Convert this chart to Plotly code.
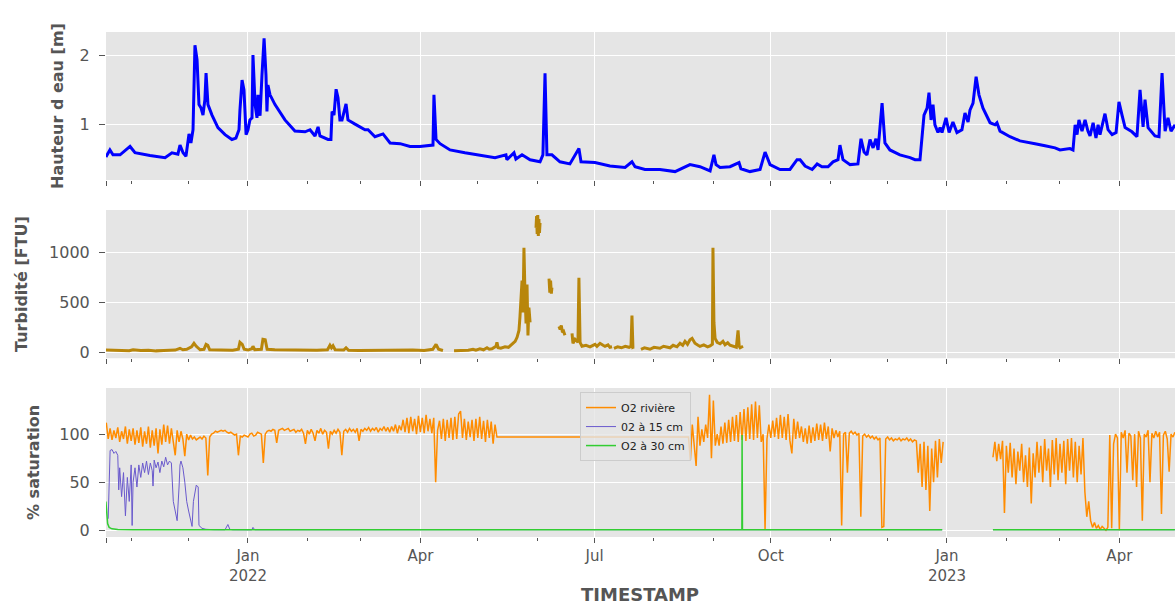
import pandas as pd
import plotly.graph_objects as go
from plotly.subplots import make_subplots

# jours comptés depuis le 1er janvier 2022
ORIGINE = pd.Timestamp("2022-01-01")

# --- hauteur d'eau [m]
niveau_jour = [
    -74.2, -72.1, -70.5, -66.8, -61.6, -59.0, -51.2, -43.3, -39.7, -36.6,
    -35.5, -33.9, -32.4, -30.8, -29.8, -28.7, -27.7, -26.6, -25.6, -24.5,
    -23.5, -22.5, -21.9, -20.9, -18.8, -15.7, -12.0, -8.4, -6.3, -4.7,
    -4.2, -3.1, -2.1, -1.0, 0.0, 1.0, 2.1, 2.6, 3.7, 4.7,
    5.2, 6.3, 7.3, 8.4, 9.4, 9.9, 10.4, 11.5, 14.1, 19.3,
    24.5, 29.8, 32.4, 35.0, 36.6, 37.6, 41.8, 43.3, 43.9, 44.9,
    46.0, 47.0, 48.0, 49.1, 51.2, 52.2, 55.9, 61.1, 62.7, 66.3,
    70.5, 74.2, 79.4, 84.6, 89.8, 96.6, 97.1, 98.2, 100.3, 105.5,
    113.3, 121.1, 129.0, 134.7, 135.2, 138.9, 139.9, 143.1, 147.3, 152.5,
    154.0, 155.1, 156.1, 158.7, 162.9, 168.1, 172.8, 173.9, 181.2, 189.0,
    196.9, 200.5, 202.1, 207.3, 215.1, 223.0, 228.2, 230.8, 236.0, 241.3,
    243.3, 244.4, 246.5, 251.7, 256.4, 257.4, 262.1, 267.4, 270.0, 272.6,
    277.8, 283.0, 286.7, 288.3, 290.9, 294.6, 297.2, 299.7, 302.9, 305.5,
    308.1, 309.1, 310.7, 314.4, 318.5, 320.1, 321.7, 323.2, 324.8, 326.4,
    327.9, 329.0, 331.1, 332.6, 335.2, 340.4, 345.7, 348.3, 350.9, 352.0,
    353.0, 354.6, 355.6, 356.7, 357.7, 358.7, 360.3, 361.4, 362.4, 364.5,
    366.1, 368.1, 370.2, 372.8, 374.4, 376.0, 377.0, 378.6, 380.2, 381.7,
    383.8, 387.5, 390.1, 391.1, 392.7, 397.9, 403.1, 411.0, 413.6, 416.2,
    421.4, 424.0, 429.2, 430.8, 431.9, 432.9, 433.9, 435.5, 437.1, 438.6,
    439.7, 441.3, 442.8, 443.9, 444.9, 447.5, 449.1, 451.2, 453.3, 454.8,
    456.4, 458.0, 461.6, 464.2, 465.8, 467.4, 468.4, 470.0, 473.6, 475.7,
    477.3, 478.9, 480.4, 482.0, 484.1,
]
niveau_m = [
    0.54, 0.64, 0.57, 0.57, 0.69, 0.60, 0.56, 0.53, 0.60, 0.58,
    0.71, 0.60, 0.55, 0.87, 0.74, 0.93, 2.14, 1.93, 1.29, 1.24,
    1.14, 1.36, 1.74, 1.29, 1.14, 0.96, 0.86, 0.79, 0.81, 0.93,
    1.21, 1.64, 1.50, 0.86, 0.93, 1.07, 1.10, 2.00, 1.29, 1.10,
    1.43, 1.13, 1.71, 2.24, 1.71, 1.19, 1.57, 1.43, 1.29, 1.07,
    0.91, 0.90, 0.93, 0.84, 0.97, 0.84, 0.79, 0.79, 1.19, 1.14,
    1.51, 1.39, 1.07, 1.07, 1.30, 1.07, 1.01, 0.93, 0.93, 0.83,
    0.87, 0.74, 0.73, 0.69, 0.69, 0.71, 1.43, 0.79, 0.73, 0.64,
    0.60, 0.57, 0.53, 0.57, 0.50, 0.60, 0.51, 0.57, 0.50, 0.47,
    0.57, 1.74, 0.57, 0.57, 0.47, 0.44, 0.66, 0.47, 0.46, 0.41,
    0.39, 0.47, 0.40, 0.36, 0.36, 0.33, 0.39, 0.43, 0.40, 0.34,
    0.57, 0.43, 0.39, 0.40, 0.46, 0.37, 0.33, 0.36, 0.61, 0.43,
    0.36, 0.36, 0.50, 0.50, 0.41, 0.36, 0.44, 0.40, 0.40, 0.47,
    0.50, 0.71, 0.50, 0.43, 0.44, 0.80, 0.61, 0.57, 0.79, 0.67,
    0.80, 0.64, 1.31, 0.74, 0.64, 0.57, 0.53, 0.50, 0.50, 0.89,
    1.14, 1.24, 1.46, 1.07, 1.29, 1.00, 0.89, 0.96, 0.89, 1.10,
    0.89, 1.04, 0.89, 0.93, 1.17, 1.04, 1.21, 1.31, 1.69, 1.43,
    1.24, 1.03, 1.00, 1.03, 0.91, 0.83, 0.77, 0.73, 0.71, 0.70,
    0.67, 0.64, 0.66, 0.64, 1.00, 0.86, 1.07, 0.91, 1.07, 0.91,
    0.84, 1.03, 0.81, 1.00, 0.86, 1.16, 0.93, 0.86, 0.89, 1.33,
    1.14, 0.96, 0.90, 0.83, 1.50, 0.97, 1.36, 0.96, 0.84, 0.83,
    1.74, 0.91, 1.10, 0.91, 1.00,
]

# --- turbidité [FTU], par tronçons de mesure continus
turb_j1 = [-74.2, -70, -66, -62, -60, -56, -52, -48, -44, -40, -38, -35.5, -34, -32,
           -29.5, -28.2, -27, -25, -23, -21.9, -21, -20, -16, -12, -8, -5, -4.2, -3,
           -2, 0, 2, 2.6, 3.5, 7, 7.8, 9, 10, 14, 20, 26, 32, 36, 41.5, 42.8, 43.6,
           44.4, 45.5, 50, 51.2, 52.5, 58, 65, 72, 80, 86, 92, 96.5, 98.2, 99.5, 101.8]
turb_v1 = [22, 18, 20, 15, 24, 17, 19, 14, 18, 16, 22, 40, 25, 30,
           55, 90, 60, 25, 30, 80, 70, 25, 22, 18, 20, 30, 100, 80,
           30, 22, 35, 60, 25, 30, 130, 125, 30, 25, 22, 18, 21, 19, 25, 70, 45,
           65, 25, 22, 45, 20, 18, 20, 17, 20, 22, 18, 30, 80, 30, 18]
turb_j2 = [107.6, 112, 115, 117.5, 119, 121.1, 123, 124.8, 126, 127.4, 129.5, 130, 130.6,
           132, 134.2, 136, 136.8, 138.4, 139.5, 140.5, 141.5, 142, 142.6, 143.1, 143.6,
           144.1, 144.6, 145.2, 145.7, 146.2, 146.7, 147.3]
turb_v2 = [15, 18, 20, 30, 20, 35, 25, 45, 30, 35, 60, 100, 45,
           40, 55, 50, 65, 90, 110, 150, 220, 350, 520, 720, 400,
           1050, 620, 290, 680, 170, 450, 300]
turb_j3 = [150.4, 150.7, 151.0, 151.3, 151.6, 151.9, 152.2, 152.5]
turb_v3 = [1250, 1370, 1190, 1380, 1170, 1340, 1200, 1300]
turb_j4 = [157.2, 157.6, 158.0, 158.4, 158.7]
turb_v4 = [740, 600, 720, 590, 650]
turb_j5 = [162.4, 163, 163.6, 164.2, 164.8, 165.5]
turb_v5 = [260, 230, 270, 200, 210, 170]
turb_j6 = [169.2, 169.7, 170.8, 172.3, 172.8, 173.4, 174.4, 176.5, 178.6, 181.2, 182.2,
           183.8, 185.4, 186.4, 188.0, 189.0, 190.1]
turb_v6 = [190, 90, 130, 100, 750, 100, 60, 70, 55, 80, 60,
           90, 70, 60, 75, 50, 55]
turb_j7 = [191.1, 193, 195, 197, 199, 200, 200.5, 201, 201.6]
turb_v7 = [40, 55, 45, 60, 50, 60, 370, 50, 55]
turb_j8 = [205.2, 207, 209.9, 212, 215.1, 217, 220.4, 222, 224, 225.6, 227, 228.2, 229.5,
           230.8, 231.9, 233.4, 235, 236, 238, 240, 241.3, 242.5, 242.8, 243.3, 243.9,
           245, 246.5, 248, 249.1, 250.5, 251.7, 253, 255, 255.9, 256.5, 257, 258.5]
turb_v8 = [30, 45, 30, 50, 40, 60, 45, 70, 55, 90, 70, 110, 80,
           125, 140, 90, 70, 60, 75, 55, 65, 80, 1050, 300, 140,
           100, 85, 110, 75, 95, 70, 60, 50, 220, 60, 45, 60]

# --- O2 rivière [% sat.], valeurs journalières par tronçon (premier jour de chaque tronçon)
o2_riv_debut = [-74, 230, 389]
o2_riv_a = [
    112, 95, 106, 94, 104, 96, 107, 92, 103, 95,
    108, 90, 105, 93, 106, 89, 104, 91, 107, 87,
    103, 90, 108, 86, 104, 88, 106, 80, 105, 89,
    110, 92, 109, 90, 106, 91, 78, 104, 92, 103,
    95, 77, 100, 94, 99, 95, 97, 94, 96, 97,
    95, 98, 96, 57, 97, 100, 101, 103, 102, 103,
    104, 103, 104, 102, 101, 102, 100, 99, 100, 78,
    98, 97, 99, 98, 97, 100, 101, 98, 99, 102,
    101, 100, 70, 100, 103, 104, 103, 105, 104, 91,
    104, 105, 106, 104, 105, 106, 103, 104, 105, 102,
    104, 103, 105, 101, 90, 104, 100, 105, 101, 93,
    104, 101, 106, 100, 104, 102, 85, 103, 100, 104,
    101, 105, 102, 78, 103, 105, 102, 106, 103, 105,
    102, 106, 93, 105, 103, 106, 104, 107, 103, 106,
    104, 107, 102, 106, 104, 108, 103, 107, 102, 108,
    103, 110, 101, 109, 104, 115, 102, 117, 101, 118,
    103, 116, 100, 119, 102, 117, 101, 120, 103, 116,
    101, 117, 50, 104, 114, 95, 116, 93, 115, 96,
    117, 94, 118, 95, 121, 124, 96, 116, 94, 113,
    97, 115, 93, 116, 96, 118, 95, 114, 92, 115,
    96, 113, 90, 110, 97,
]
o2_riv_b = [
    97, 73, 110, 86, 67, 118, 88, 105, 92, 110,
    96, 141, 75, 135, 88, 100, 88, 108, 90, 112,
    91, 115, 92, 118, 93, 120, 92, 123, 94, 126,
    93, 128, 95, 131, 94, 134, 96, 130, 92, 100,
    1, 95, 110, 96, 114, 97, 117, 95, 120, 96,
    118, 94, 121, 93, 80, 116, 95, 113, 96, 108,
    92, 106, 90, 109, 91, 107, 93, 111, 94, 110,
    93, 112, 95, 108, 82, 106, 96, 104, 97, 103,
    5, 100, 102, 60, 101, 103, 100, 102, 99, 101,
    14, 98, 100, 97, 99, 96, 98, 95, 97, 94,
    96, 3, 4, 95, 97, 94, 96, 93, 95, 94,
    96, 93, 95, 94, 96, 93, 95, 92, 94, 93,
    60, 90, 45, 92, 42, 88, 20, 85, 50, 93,
    55, 95, 70, 92,
]
o2_riv_c = [
    76, 92, 72, 90, 74, 93, 18, 88, 60, 91,
    55, 85, 48, 82, 62, 90, 50, 78, 45, 86,
    28, 80, 55, 92, 60, 88, 50, 95, 62, 85,
    45, 94, 58, 96, 52, 90, 60, 93, 48, 95,
    62, 96, 55, 92, 50, 88, 58, 96, 40, 14,
    30, 10, 3, 8, 2, 5, 1, 4, 2, 0,
    3, 99, 2, 90, 100, 96, 0, 102, 96, 104,
    60, 101, 98, 52, 100, 45, 103, 96, 10, 100,
    97, 104, 50, 101, 96, 103, 97, 102, 17, 99,
    103, 95, 61, 100, 97, 102,
]

# --- O2 à 15 cm et à 30 cm (None = pas de mesure)
o2_15_jour = [-73, -72, -71, -70, -69, -68, -67.5, -67, -66, -65, -64, -63, -62, -61,
              -60.5, -60, -59, -58, -57, -56, -55, -54, -53, -52, -51, -50, -49.6, -49,
              -48, -47, -46, -45, -44, -43, -42, -41, -40, -39.5, -39, -38, -37, -36,
              -35.5, -35, -34, -33, -32, -31, -30, -29.2, -28.5, -27.5, -27, -26, -25.6,
              -24, -22, -18, -12, -10.5, -9.5, -8, 2, 2.6, 3.5, 120, 200, 362.5,
              None, 389, 484]
o2_15_val = [12, 83, 84, 80, 82, 78, 42, 65, 35, 60, 15, 55, 30, 68,
             5, 50, 65, 45, 68, 55, 70, 60, 72, 58, 70, 62, 46, 73,
             65, 71, 60, 72, 66, 76, 68, 72, 70, 42, 30, 20, 10, 45,
             68, 72, 65, 50, 30, 20, 10, 4, 30, 44, 47, 45, 5,
             2, 1, 0.6, 0.5, 6, 1, 0.5, 0.4, 3, 0.5, 0.6, 0.4, 0.5,
             None, 0.6, 0.5]
o2_30_jour = [-74.2, -73.8, -73.3, -72.5, -71, -68, -60, 257.9, 258.0, 258.2, 362.5,
              None, 389, 484]
o2_30_val = [30, 15, 7, 3, 1.5, 0.8, 0.5, 0.5, 99, 0.5, 0.5,
             None, 0.5, 0.5]

# graduations de l'axe du temps
mois_majeurs = ["2021-10-19", "2022-01-01", "2022-04-01", "2022-07-01",
                "2022-10-01", "2023-01-01", "2023-04-01"]
etiquettes_mois = ["", "Jan<br>2022", "Apr", "Jul", "Oct", "Jan<br>2023", "Apr"]
mois_mineurs = ["2021-11-01", "2021-12-01", "2022-02-01", "2022-03-01", "2022-05-01",
                "2022-06-01", "2022-08-01", "2022-09-01", "2022-11-01", "2022-12-01",
                "2023-02-01", "2023-03-01"]


def en_dates(jours):
    return [None if j is None else ORIGINE + pd.Timedelta(days=j) for j in jours]


turb_j, turb_v = [], []
for jj, vv in [(turb_j1, turb_v1), (turb_j2, turb_v2), (turb_j3, turb_v3), (turb_j4, turb_v4),
               (turb_j5, turb_v5), (turb_j6, turb_v6), (turb_j7, turb_v7), (turb_j8, turb_v8)]:
    if turb_j:
        turb_j.append(None)
        turb_v.append(None)
    turb_j += jj
    turb_v += vv

riv_j, riv_v = [], []
for k, (debut, vals) in enumerate(zip(o2_riv_debut, [o2_riv_a, o2_riv_b, o2_riv_c])):
    if k == 2:  # trou de mesure janvier 2023
        riv_j.append(None)
        riv_v.append(None)
    riv_j += [debut + i for i in range(len(vals))]
    riv_v += vals

GRIS = "#555555"
POLICE = "DejaVu Sans"

fig = make_subplots(rows=3, cols=1, shared_xaxes=True)

fig.add_trace(go.Scatter(x=en_dates(niveau_jour), y=niveau_m, mode="lines",
                         line=dict(color="blue", width=3), showlegend=False), row=1, col=1)
fig.add_trace(go.Scatter(x=en_dates(turb_j), y=turb_v, mode="lines",
                         line=dict(color="#B8860B", width=3), showlegend=False), row=2, col=1)
fig.add_trace(go.Scatter(x=en_dates(riv_j), y=riv_v, mode="lines", name="O2 rivière",
                         line=dict(color="darkorange", width=1.5)), row=3, col=1)
fig.add_trace(go.Scatter(x=en_dates(o2_15_jour), y=o2_15_val, mode="lines", name="02 à 15 cm",
                         line=dict(color="slateblue", width=1)), row=3, col=1)
fig.add_trace(go.Scatter(x=en_dates(o2_30_jour), y=o2_30_val, mode="lines", name="O2 à 30 cm",
                         line=dict(color="limegreen", width=1.5)), row=3, col=1)

axe_x = dict(
    type="date", range=["2021-10-18 20:30", "2023-04-30 01:30"],
    tickmode="array", tickvals=mois_majeurs, ticktext=etiquettes_mois,
    ticks="outside", ticklen=5, tickwidth=1, tickcolor=GRIS,
    tickfont=dict(family=POLICE, size=15, color=GRIS),
    showgrid=True, gridcolor="white", gridwidth=1.3, zeroline=False, showline=False,
    minor=dict(tickmode="array", tickvals=mois_mineurs, ticks="outside", ticklen=3,
               tickwidth=1, tickcolor=GRIS, showgrid=False),
)
axe_y = dict(
    ticks="outside", ticklen=6, tickwidth=1, tickcolor=GRIS, ticklabelstandoff=6,
    tickfont=dict(family=POLICE, size=16, color=GRIS),
    showgrid=True, gridcolor="white", gridwidth=1.3, zeroline=False, showline=False,
)

fig.update_layout(
    width=1175, height=606,
    margin=dict(l=106, r=0, t=32, b=69, autoexpand=False),
    paper_bgcolor="white", plot_bgcolor="#E5E5E5",
    font=dict(family=POLICE, color=GRIS),
    xaxis=dict(axe_x, showticklabels=False),
    xaxis2=dict(axe_x, showticklabels=False),
    xaxis3=dict(axe_x, showticklabels=True),
    yaxis=dict(axe_y, domain=[0.707, 1.0], range=[0.21, 2.33], tickvals=[1, 2]),
    yaxis2=dict(axe_y, domain=[0.354, 0.6475], range=[-60, 1430], tickvals=[0, 500, 1000]),
    yaxis3=dict(axe_y, domain=[0.0, 0.295], range=[-7, 148], tickvals=[0, 50, 100]),
    legend=dict(x=0.4434, y=0.287, xanchor="left", yanchor="top",
                bgcolor="rgba(229,229,229,0.8)", bordercolor="#CCCCCC", borderwidth=1,
                font=dict(family=POLICE, size=11, color="#222222"), tracegroupgap=0),
)

titres = [
    ("Hauteur d eau [m]", -0.0449, 0.8535),
    ("Turbidité [FTU]", -0.0786, 0.501),
    ("% saturation", -0.0683, 0.1485),
]
for texte, px, py in titres:
    fig.add_annotation(text=f"<b>{texte}</b>", xref="paper", yref="paper", x=px, y=py,
                       xanchor="center", yanchor="middle", textangle=-90, showarrow=False,
                       font=dict(family=POLICE, size=16, color=GRIS))
fig.add_annotation(text="<b>TIMESTAMP</b>", xref="paper", yref="paper", x=0.4995, y=-0.113,
                   xanchor="center", yanchor="middle", showarrow=False,
                   font=dict(family=POLICE, size=18, color=GRIS))

# la page html a une marge de 8 px par défaut : on la retire
fig.write_html("out.html", config={"displayModeBar": False},
               post_script="document.body.style.margin='0';document.body.style.overflow='hidden';")
